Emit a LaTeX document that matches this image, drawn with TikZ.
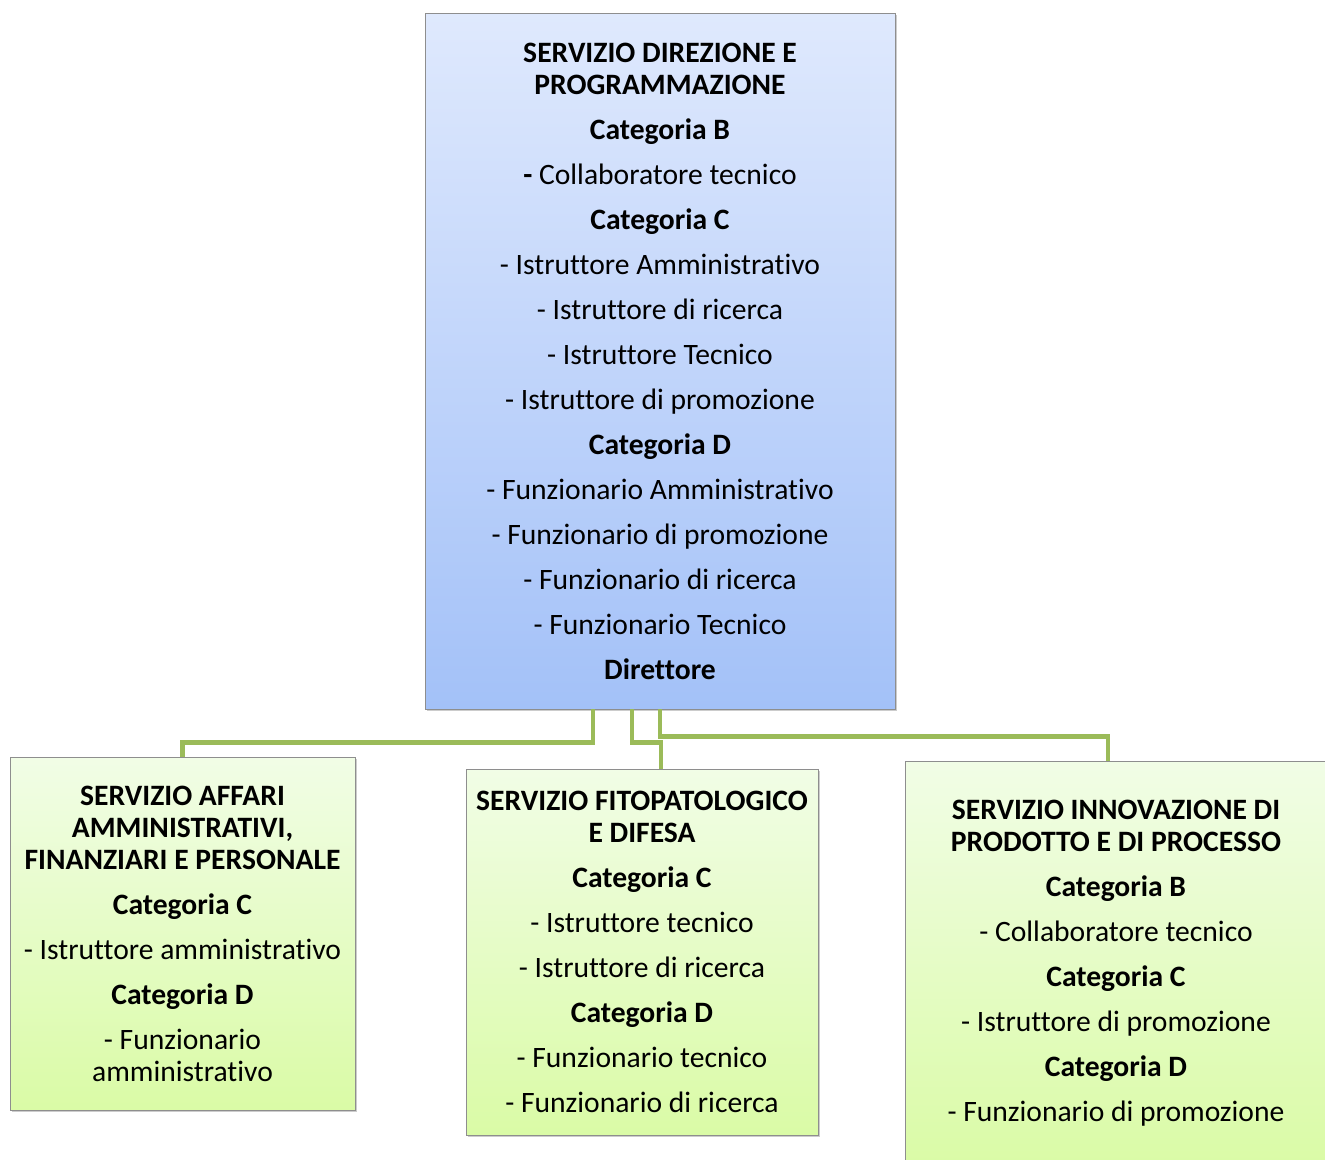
\documentclass[tikz,border=0pt]{standalone}
\usepackage{fontspec}
\setmainfont[Ligatures=NoCommon]{Carlito}
\usetikzlibrary{positioning,shadows}
\definecolor{blutop}{HTML}{DFE9FD}
\definecolor{blubot}{HTML}{A3C1F8}
\definecolor{verdetop}{HTML}{F1FDE6}
\definecolor{verdebot}{HTML}{DAFBA6}
\definecolor{bordo}{HTML}{8E8E8E}
\definecolor{ramo}{HTML}{9BBB59}

\begin{document}
\begin{tikzpicture}[x=0.75pt,y=-0.75pt,
  box/.style={draw=bordo,line width=0.6pt,align=center,inner sep=0pt,
    font=\fontsize{22.2}{24}\selectfont,
    drop shadow={opacity=0.4,shadow xshift=1.5pt,shadow yshift=-1.8pt}},
  dirbox/.style={box,top color=blutop,bottom color=blubot,minimum width=352.5pt,minimum height=522pt},
  servbox/.style={box,top color=verdetop,bottom color=verdebot},
  link/.style={draw=ramo,line width=3.3pt}
]
\useasboundingbox (0,0) rectangle (1325,1160);
\clip (0,0) rectangle (1325,1160);
\node[dirbox] (direzione) at (660,361) {\textbf{SERVIZIO DIREZIONE E}\\
  \textbf{PROGRAMMAZIONE}\\[9.75pt]
  \textbf{Categoria B}\\[9.75pt]
  \textbf{-} Collaboratore tecnico\\[9.75pt]
  \textbf{Categoria C}\\[9.75pt]
  - Istruttore Amministrativo\\[9.75pt]
  - Istruttore di ricerca\\[9.75pt]
  - Istruttore Tecnico\\[9.75pt]
  - Istruttore di promozione\\[9.75pt]
  \textbf{Categoria D}\\[9.75pt]
  - Funzionario Amministrativo\\[9.75pt]
  - Funzionario di promozione\\[9.75pt]
  - Funzionario di ricerca\\[9.75pt]
  - Funzionario Tecnico\\[9.75pt]
  \textbf{Direttore}};
\node[servbox,minimum width=258.75pt,minimum height=264.75pt] (affari) at (182.5,933.5)
  {\textbf{SERVIZIO AFFARI}\\
  \textbf{AMMINISTRATIVI,}\\
  \textbf{FINANZIARI E PERSONALE}\\[9.75pt]
  \textbf{Categoria C}\\[9.75pt]
  - Istruttore amministrativo\\[9.75pt]
  \textbf{Categoria D}\\[9.75pt]
  - Funzionario\\
  amministrativo};
\node[servbox,minimum width=264pt,minimum height=274.5pt] (fito) at (642,952)
  {\textbf{SERVIZIO FITOPATOLOGICO}\\
  \textbf{E DIFESA}\\[9.75pt]
  \textbf{Categoria C}\\[9.75pt]
  - Istruttore tecnico\\[9.75pt]
  - Istruttore di ricerca\\[9.75pt]
  \textbf{Categoria D}\\[9.75pt]
  - Funzionario tecnico\\[9.75pt]
  - Funzionario di ricerca};
\node[servbox,minimum width=316.5pt,minimum height=303.75pt] (innov) at (1116,963.5)
  {\textbf{SERVIZIO INNOVAZIONE DI}\\
  \textbf{PRODOTTO E DI PROCESSO}\\[9.75pt]
  \textbf{Categoria B}\\[9.75pt]
  - Collaboratore tecnico\\[9.75pt]
  \textbf{Categoria C}\\[9.75pt]
  - Istruttore di promozione\\[9.75pt]
  \textbf{Categoria D}\\[9.75pt]
  - Funzionario di promozione};
% rami
\draw[link] ([xshift=-50.25pt]direzione.south) -- ++(0,33) -| (affari.north);
\draw[link] ([xshift=-21pt]direzione.south) -- ++(0,33) -| ([xshift=14.25pt]fito.north);
\draw[link] (direzione.south) -- ++(0,27) -| ([xshift=-6pt]innov.north);
\end{tikzpicture}
\end{document}
